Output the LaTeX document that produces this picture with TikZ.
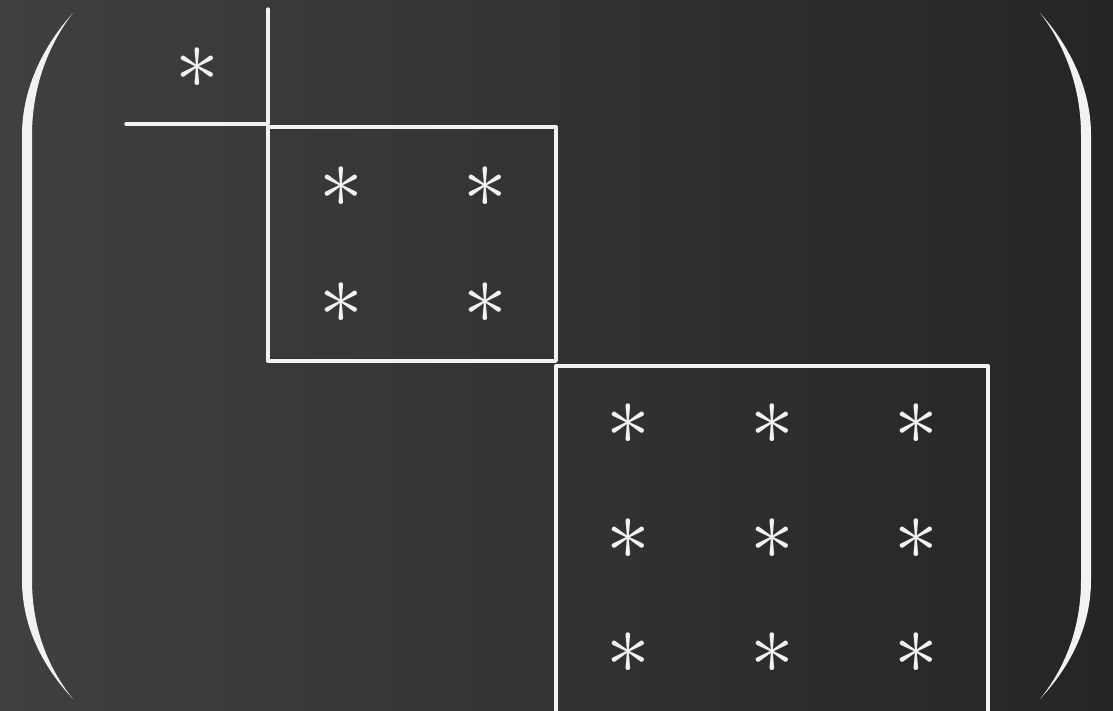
\documentclass[tikz,border=0pt]{standalone}
\usepackage{graphicx}
\begin{document}
\begin{tikzpicture}[x=0.025cm,y=-0.025cm,
  star/.style={text=chalk,inner sep=0pt},
  rule/.style={draw=chalk,line width=2.4pt,line cap=round,line join=round}]
\definecolor{chalk}{RGB}{242,242,242}
\definecolor{bgleft}{RGB}{64,64,64}
\definecolor{bgright}{RGB}{37,37,37}
\newcommand{\bigast}{\scalebox{2.5}{\fontsize{24.88}{26}\selectfont$\ast$}}
\shade[left color=bgleft,right color=bgright] (0,0) rectangle (1113,711);
\useasboundingbox (0,0) rectangle (1113,711);
% parentheses
\fill[chalk] (73,13) .. controls (44,45) and (22,88) .. (22,135) -- (22,580)
  .. controls (22,628) and (44,668) .. (73,699)
  .. controls (48,668) and (32,628) .. (32,580) -- (32,135)
  .. controls (32,88) and (48,45) .. (73,13) -- cycle;
\fill[chalk] (1040,13) .. controls (1069,45) and (1091,88) .. (1091,135) -- (1091,580)
  .. controls (1091,628) and (1069,668) .. (1040,699)
  .. controls (1065,668) and (1081,628) .. (1081,580) -- (1081,135)
  .. controls (1081,88) and (1065,45) .. (1040,13) -- cycle;
% block lines
\draw[rule] (268,9) -- (268,124) -- (126,124);
\draw[rule] (268,127) rectangle (556,361);
\draw[rule] (556,712) -- (556,366) -- (988,366) -- (988,712);
% entries
\node[star] (a11) at (197,68) {\bigast};
\node[star] (b11) at (341,187) {\bigast};
\node[star] (b12) at (485,187) {\bigast};
\node[star] (b21) at (341,303) {\bigast};
\node[star] (b22) at (485,303) {\bigast};
\node[star] (c11) at (628,424) {\bigast};
\node[star] (c12) at (772,424) {\bigast};
\node[star] (c13) at (916,424) {\bigast};
\node[star] (c21) at (628,539) {\bigast};
\node[star] (c22) at (772,539) {\bigast};
\node[star] (c23) at (916,539) {\bigast};
\node[star] (c31) at (628,653) {\bigast};
\node[star] (c32) at (772,653) {\bigast};
\node[star] (c33) at (916,653) {\bigast};
\end{tikzpicture}
\end{document}
